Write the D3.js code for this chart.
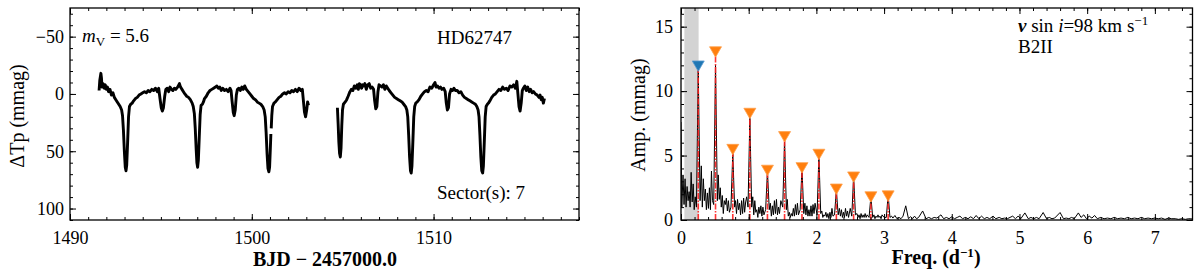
<!DOCTYPE html>
<html lang="en">
<head>
<meta charset="UTF-8">
<title>HD62747 light curve and amplitude spectrum</title>
<script src="https://d3js.org/d3.v7.min.js"></script>
<style>
    body { margin: 0; background: #fff; }
    svg text { font-family: "Liberation Serif", "Times New Roman", serif; fill: #000; }
    .tick text { font-size: 18px; }
    .axis path { display: none; }
    .axis line { stroke: #000; stroke-width: 1; }
    .frame { fill: none; stroke: #000; stroke-width: 1.3; }
    .lbl { font-size: 20px; }
    .note { font-size: 19px; }
</style>
</head>
<body>
<svg id="chart" width="1200" height="274"></svg>
<script>
// ---- light curve (BJD - 2457000, mmag); null = small gap
const lcSegment1 = [
    [1491.60,-3],[1491.64,-12],[1491.70,-18],[1491.73,-14],[1491.76,-6],[1491.82,-9],[1491.88,-5],[1491.94,-8],
    [1492.00,-4],[1492.06,-6],[1492.12,-2],[1492.20,-4],[1492.28,1],[1492.36,-1],[1492.44,3],[1492.52,5],
    [1492.60,7],[1492.68,9],[1492.76,11],[1492.84,14],[1492.89,19],[1492.94,32],[1492.99,50],[1493.04,64],
    [1493.08,67],[1493.12,62],[1493.17,42],[1493.22,20],[1493.27,11],[1493.34,9],[1493.42,8],[1493.50,6],[1493.60,4],
    [1493.70,3],[1493.80,1],[1493.90,0],[1494.00,-1],[1494.10,-2],[1494.20,-1],[1494.30,-3],[1494.40,-2],
    [1494.50,-4],[1494.60,-3],[1494.70,-5],[1494.80,-2],[1494.88,-5],[1494.95,4],[1495.02,12],[1495.08,15],
    [1495.14,12],[1495.21,2],[1495.27,-4],[1495.35,-5],[1495.43,-2],[1495.50,-6],[1495.58,-4],[1495.66,-3],
    [1495.74,-5],[1495.82,-4],[1495.92,-6],[1496.02,-9],[1496.08,-6],[1496.16,-4],[1496.24,-2],[1496.32,0],
    [1496.42,2],[1496.52,3],[1496.62,5],[1496.72,8],[1496.78,11],[1496.84,17],[1496.89,30],[1496.94,48],
    [1496.98,60],[1497.02,64],[1497.06,58],[1497.11,38],[1497.16,18],[1497.21,10],[1497.28,9],[1497.34,7],[1497.40,4],[1497.50,2],
    [1497.60,-1],[1497.70,-3],[1497.80,-4],[1497.90,-5],[1498.00,-6],[1498.08,-7],[1498.16,-5],[1498.24,-6],
    [1498.32,-3],[1498.40,-5],[1498.50,-3],[1498.60,-4],[1498.70,-2],[1498.80,-5],[1498.86,-3],[1498.92,7],
    [1498.98,16],[1499.03,19],[1499.09,14],[1499.15,1],[1499.21,-4],[1499.29,-5],[1499.37,-3],[1499.45,-6],
    [1499.53,-4],[1499.61,-7],[1499.70,-4],[1499.80,-2],[1499.90,0],[1500.00,2],[1500.10,4],[1500.20,5],
    [1500.30,7],[1500.40,8],[1500.50,9],[1500.60,11],[1500.68,14],[1500.74,20],[1500.79,34],[1500.84,52],
    [1500.89,65],[1500.94,68],[1500.98,64],[1501.02,48],[1501.05,35],null,[1501.07,30],[1501.10,19],[1501.14,11],
    [1501.22,8],[1501.30,7],[1501.40,5],[1501.50,3],[1501.60,2],[1501.70,0],[1501.80,-1],[1501.90,0],
    [1502.00,-2],[1502.10,-1],[1502.20,-3],[1502.30,-2],[1502.40,-4],[1502.50,-2],[1502.60,-5],[1502.70,-3],
    [1502.78,-4],[1502.84,6],[1502.90,16],[1502.96,20],[1503.02,14],[1503.07,7],[1503.12,10]
];
const lcSegment2 = [
    [1504.71,12],[1504.75,26],[1504.79,42],[1504.83,52],[1504.87,55],[1504.91,47],[1504.95,28],[1504.99,14],[1505.04,9],
    [1505.14,7],[1505.22,5],[1505.30,2],[1505.40,-2],[1505.48,-4],[1505.56,-3],[1505.64,-7],[1505.72,-5],
    [1505.80,-8],[1505.86,-4],[1505.92,-9],[1505.98,-8],[1506.04,-5],[1506.10,-8],[1506.16,-7],[1506.22,-9],
    [1506.30,-4],[1506.38,-8],[1506.46,-9],[1506.54,-5],[1506.62,-6],[1506.70,-4],[1506.76,6],[1506.82,13],
    [1506.88,11],[1506.94,-2],[1507.00,-8],[1507.08,-7],[1507.16,-6],[1507.24,-8],[1507.32,-4],[1507.40,-7],
    [1507.48,-5],[1507.56,-3],[1507.66,-1],[1507.76,1],[1507.86,3],[1507.96,4],[1508.06,5],[1508.16,6],
    [1508.26,7],[1508.36,9],[1508.46,11],[1508.53,14],[1508.58,20],[1508.63,36],[1508.68,55],[1508.73,67],
    [1508.77,69],[1508.81,63],[1508.86,42],[1508.91,20],[1508.96,11],[1509.02,8],[1509.10,7],[1509.20,5],[1509.30,2],[1509.40,0],
    [1509.50,-2],[1509.60,-3],[1509.70,-2],[1509.80,-6],[1509.90,-5],[1510.00,-8],[1510.08,-10],[1510.14,-6],
    [1510.22,-7],[1510.30,-5],[1510.38,-6],[1510.46,-4],[1510.56,-5],[1510.64,-2],[1510.70,8],[1510.76,14],
    [1510.82,12],[1510.88,0],[1510.96,-4],[1511.04,-3],[1511.12,-5],[1511.20,-3],[1511.30,-3],[1511.40,-1],
    [1511.50,-2],[1511.60,1],[1511.70,3],[1511.80,4],[1511.90,5],[1512.00,6],[1512.10,7],[1512.20,8],
    [1512.30,9],[1512.38,11],[1512.45,14],[1512.50,20],[1512.55,36],[1512.60,55],[1512.65,67],[1512.70,69],
    [1512.74,63],[1512.79,42],[1512.84,20],[1512.89,11],[1512.96,9],[1513.02,8],[1513.10,6],[1513.20,3],[1513.30,1],[1513.40,0],
    [1513.50,-2],[1513.60,-4],[1513.70,-3],[1513.80,-6],[1513.90,-4],[1514.00,-5],[1514.10,-3],[1514.20,-7],
    [1514.30,-6],[1514.40,-8],[1514.50,-5],[1514.58,-11],[1514.64,0],[1514.70,11],[1514.76,15],[1514.82,8],
    [1514.88,-3],[1514.94,-5],[1515.02,-7],[1515.10,-3],[1515.18,-6],[1515.26,-2],[1515.34,-4],[1515.42,-1],
    [1515.50,-2],[1515.60,0],[1515.70,1],[1515.80,3],[1515.86,1],[1515.92,5],[1515.98,3],[1516.04,8],[1516.10,4]
];

// ---- amplitude spectrum (d^-1, mmag)
const spectrum = [
    [0.000,7.6],[0.012,1.0],[0.030,3.5],[0.045,1.2],[0.060,3.2],[0.075,1.0],[0.090,2.6],[0.105,1.5],
    [0.120,2.2],[0.135,1.0],[0.150,3.7],[0.165,1.4],[0.180,2.8],[0.195,0.8],[0.210,1.8],[0.228,1.0],
    [0.255,11.6],[0.282,1.5],[0.300,4.2],[0.315,1.0],[0.330,3.2],[0.345,1.5],[0.360,2.4],[0.375,0.8],
    [0.390,2.1],[0.405,0.9],[0.420,2.5],[0.435,0.8],[0.450,3.8],[0.465,1.5],[0.483,1.2],[0.510,12.0],
    [0.537,1.5],[0.550,3.5],[0.565,1.6],[0.580,2.5],[0.595,1.0],[0.610,1.9],[0.625,0.5],[0.640,1.5],
    [0.655,1.2],[0.670,1.7],[0.685,0.7],[0.700,1.5],[0.715,0.6],[0.738,1.0],[0.765,5.2],[0.792,1.0],
    [0.805,1.5],[0.820,0.5],[0.835,1.6],[0.850,0.8],[0.865,1.3],[0.880,0.4],[0.895,1.5],[0.910,0.5],
    [0.925,1.7],[0.940,0.6],[0.955,1.4],[0.970,1.8],[0.990,1.0],[1.017,7.9],[1.044,1.0],[1.060,1.8],
    [1.075,0.4],[1.090,1.5],[1.105,0.6],[1.120,0.8],[1.135,0.2],[1.150,1.0],[1.165,0.5],[1.180,1.1],
    [1.195,0.3],[1.210,1.0],[1.225,0.4],[1.250,0.8],[1.277,3.75],[1.304,0.8],[1.320,1.3],[1.335,0.3],
    [1.350,1.1],[1.365,0.4],[1.380,1.5],[1.395,0.5],[1.410,1.6],[1.425,0.4],[1.440,1.0],[1.455,0.5],
    [1.475,1.5],[1.503,1.0],[1.530,6.2],[1.557,0.8],[1.570,1.6],[1.585,0.3],[1.600,0.6],[1.615,0.2],
    [1.630,0.5],[1.645,0.3],[1.660,0.9],[1.675,0.3],[1.690,1.2],[1.705,0.4],[1.720,1.3],[1.735,0.4],
    [1.760,0.8],[1.787,4.0],[1.814,0.5],[1.830,1.3],[1.845,0.4],[1.860,1.1],[1.875,0.3],[1.890,0.8],
    [1.905,0.3],[1.920,1.1],[1.935,0.3],[1.950,1.2],[1.965,0.5],[1.980,1.3],[2.010,0.4],[2.037,5.0],
    [2.064,0.5],[2.080,0.7],[2.095,0.2],[2.110,0.4],[2.125,0.3],[2.140,0.6],[2.155,0.2],[2.170,0.5],
    [2.185,0.1],[2.200,0.6],[2.215,0.2],[2.230,0.9],[2.245,0.3],[2.268,0.4],[2.295,2.3],[2.322,0.4],
    [2.340,0.9],[2.355,0.3],[2.370,0.8],[2.385,0.2],[2.400,0.6],[2.415,0.2],[2.430,0.9],[2.445,0.3],
    [2.460,0.7],[2.475,0.2],[2.500,0.9],[2.523,0.3],[2.550,3.4],[2.577,0.4],[2.600,0.5],[2.615,0.2],
    [2.630,0.4],[2.645,0.1],[2.660,0.5],[2.675,0.2],[2.690,0.4],[2.705,0.2],[2.720,0.5],[2.735,0.2],
    [2.750,0.4],[2.778,0.2],[2.805,1.8],[2.832,0.2],[2.850,0.4],[2.865,0.1],[2.880,0.3],[2.895,0.2],
    [2.910,0.4],[2.925,0.2],[2.940,0.3],[2.955,0.1],[2.970,0.4],[3.000,0.2],[3.033,0.2],[3.060,1.95],
    [3.087,0.2],[3.110,0.3],[3.130,0.15],[3.160,0.35],[3.190,0.1],[3.220,0.2],[3.250,0.1],[3.280,0.3],
    [3.320,1.1],[3.360,0.1],[3.390,0.25],[3.420,0.1],[3.450,0.3],[3.480,0.1],[3.510,0.2],[3.570,0.7],
    [3.620,0.1],[3.660,0.2],[3.700,0.1],[3.740,0.2],[3.780,0.15],[3.840,0.4],[3.880,0.1],[3.920,0.2],
    [3.960,0.1],[4.000,0.25],[4.040,0.1],[4.080,0.2],[4.120,0.3],[4.160,0.1],[4.200,0.2],[4.240,0.1],
    [4.280,0.25],[4.320,0.1],[4.360,0.35],[4.400,0.1],[4.440,0.3],[4.480,0.1],[4.520,0.2],[4.560,0.1],
    [4.610,0.3],[4.650,0.1],[4.700,0.2],[4.740,0.1],[4.780,0.15],[4.820,0.1],[4.860,0.2],[4.900,0.3],
    [4.940,0.1],[4.980,0.3],[5.020,0.1],[5.080,0.55],[5.130,0.1],[5.170,0.2],[5.210,0.1],[5.250,0.2],
    [5.290,0.1],[5.350,0.58],[5.400,0.1],[5.440,0.2],[5.480,0.1],[5.520,0.15],[5.600,0.58],[5.650,0.1],
    [5.690,0.15],[5.730,0.1],[5.770,0.2],[5.810,0.1],[5.870,0.55],[5.910,0.2],[5.950,0.4],[5.990,0.1],
    [6.030,0.3],[6.070,0.15],[6.110,0.35],[6.150,0.1],[6.200,0.2],[6.250,0.1],[6.300,0.15],[6.350,0.1],
    [6.400,0.2],[6.450,0.1],[6.500,0.15],[6.550,0.1],[6.600,0.2],[6.650,0.1],[6.700,0.15],[6.750,0.1],
    [6.800,0.2],[6.850,0.1],[6.900,0.15],[6.950,0.1],[7.000,0.15],[7.050,0.1],[7.100,0.15],[7.150,0.05],
    [7.200,0.15],[7.250,0.1],[7.300,0.1],[7.350,0.05],[7.400,0.1],[7.450,0.05],[7.500,0.1],[7.560,0.08]
];

// identified frequencies: marker heights and kind (first one is the base frequency)
const peakFreqs = [0.255, 0.510, 0.765, 1.017, 1.277, 1.530, 1.787, 2.037, 2.295, 2.550, 2.805, 3.060];
const peakMarks = [12.15, 13.25, 5.68, 8.48, 4.06, 6.67, 4.26, 5.30, 2.60, 3.54, 2.00, 2.07];
const peakKinds = ["base", "harm", "harm", "harm", "harm", "harm", "harm", "harm", "harm", "harm", "harm", "harm"];
const greyBand = [0.05, 0.26];

const lcTicks = [1490, 1500, 1510];
const magTicks = [-50, 0, 50, 100];
const freqTicks = [0, 1, 2, 3, 4, 5, 6, 7];
const ampTicks = [0, 5, 10, 15];

const svg = d3.select("#chart");

// frame + inward ticks on all four sides
function drawAxes(g, x, y, b, xMaj, xMin, yMaj, yMin, yPad) {
    g.append("g").attr("class", "axis").attr("transform", `translate(0,${b.bottom})`)
        .call(d3.axisBottom(x).tickValues(xMaj).tickSize(-6).tickPadding(11).tickFormat(d3.format("d")));
    g.append("g").attr("class", "axis").attr("transform", `translate(0,${b.bottom})`)
        .call(d3.axisBottom(x).tickValues(xMin).tickSize(-3).tickFormat(""));
    g.append("g").attr("class", "axis").attr("transform", `translate(0,${b.top})`)
        .call(d3.axisTop(x).tickValues(xMaj).tickSize(-6).tickFormat(""));
    g.append("g").attr("class", "axis").attr("transform", `translate(0,${b.top})`)
        .call(d3.axisTop(x).tickValues(xMin).tickSize(-3).tickFormat(""));

    g.append("g").attr("class", "axis").attr("transform", `translate(${b.left},0)`)
        .call(d3.axisLeft(y).tickValues(yMaj).tickSize(-6).tickPadding(yPad).tickFormat(d3.format("d")));
    g.append("g").attr("class", "axis").attr("transform", `translate(${b.left},0)`)
        .call(d3.axisLeft(y).tickValues(yMin).tickSize(-3).tickFormat(""));
    g.append("g").attr("class", "axis").attr("transform", `translate(${b.right},0)`)
        .call(d3.axisRight(y).tickValues(yMaj).tickSize(-6).tickFormat(""));
    g.append("g").attr("class", "axis").attr("transform", `translate(${b.right},0)`)
        .call(d3.axisRight(y).tickValues(yMin).tickSize(-3).tickFormat(""));

    g.selectAll(".axis").attr("font-family", null).attr("font-size", null);

    g.append("rect").attr("class", "frame")
        .attr("x", b.left).attr("y", b.top)
        .attr("width", b.right - b.left).attr("height", b.bottom - b.top);
}

// ---------------- left panel: light curve
const L = { left: 70, right: 579, top: 8, bottom: 220 };
const xL = d3.scaleLinear().domain([1490, 1518]).range([L.left, L.right]);
const yL = d3.scaleLinear().domain([-75, 110]).range([L.top, L.bottom]);
const gL = svg.append("g");

svg.append("clipPath").attr("id", "clipL").append("rect")
    .attr("x", L.left).attr("y", L.top).attr("width", L.right - L.left).attr("height", L.bottom - L.top);

const lcLine = d3.line().defined(d => d !== null).x(d => xL(d[0])).y(d => yL(d[1]));
gL.append("g").attr("clip-path", "url(#clipL)")
    .selectAll("path").data([lcSegment1, lcSegment2]).join("path")
    .attr("d", lcLine).attr("fill", "none").attr("stroke", "#000")
    .attr("stroke-width", 2.9).attr("stroke-linejoin", "round");

drawAxes(gL, xL, yL, L, lcTicks, d3.range(1490, 1519, 1), magTicks, d3.range(-70, 111, 10), 6);

gL.append("text").attr("class", "lbl").attr("x", L.left + 255).attr("y", 266)
    .attr("text-anchor", "middle").attr("font-weight", "bold").text("BJD \u2212 2457000.0");
gL.append("text").attr("class", "lbl")
    .attr("transform", `translate(24,${(L.top + L.bottom) / 2 + 2}) rotate(-90)`)
    .attr("text-anchor", "middle").text("\u0394Tp (mmag)");

const mv = gL.append("text").attr("class", "note").attr("x", 82).attr("y", 42);
mv.append("tspan").attr("font-style", "italic").text("m");
mv.append("tspan").attr("font-size", "13px").attr("dy", 4).text("V");
mv.append("tspan").attr("dy", -4).text(" = 5.6");

gL.append("text").attr("class", "note").attr("x", 437).attr("y", 44).text("HD62747");
gL.append("text").attr("class", "note").attr("x", 437).attr("y", 199).text("Sector(s): 7");

// ---------------- right panel: amplitude spectrum
const R = { left: 681, right: 1192.5, top: 8, bottom: 220 };
const xR = d3.scaleLinear().domain([0, 7.556]).range([R.left, R.right]);
const yR = d3.scaleLinear().domain([0, 16.45]).range([R.bottom, R.top]);
const gR = svg.append("g");

svg.append("clipPath").attr("id", "clipR").append("rect")
    .attr("x", R.left).attr("y", R.top).attr("width", R.right - R.left).attr("height", R.bottom - R.top);

const plotR = gR.append("g").attr("clip-path", "url(#clipR)");
plotR.append("rect")
    .attr("x", xR(greyBand[0])).attr("y", R.top)
    .attr("width", xR(greyBand[1]) - xR(greyBand[0])).attr("height", R.bottom - R.top)
    .attr("fill", "#d3d3d3");

plotR.append("path").datum(spectrum)
    .attr("d", d3.line().x(d => xR(d[0])).y(d => yR(d[1])))
    .attr("fill", "none").attr("stroke", "#000").attr("stroke-width", 1);

const peaks = peakFreqs.map((f, i) => ({ f, m: peakMarks[i], kind: peakKinds[i] }));

plotR.selectAll("line.peak").data(peaks).join("line").attr("class", "peak")
    .attr("x1", d => xR(d.f)).attr("x2", d => xR(d.f))
    .attr("y1", yR(0)).attr("y2", d => yR(d.m))
    .attr("stroke", "#ff2020").attr("stroke-width", 1.6)
    .attr("stroke-dasharray", "6,1.5,1.5,1.5").attr("opacity", 0.9);

plotR.selectAll("path.mark").data(peaks).join("path").attr("class", "mark")
    .attr("d", d3.symbol(d3.symbolTriangle, 62))
    .attr("transform", d => `translate(${xR(d.f)},${yR(d.m) + 1}) rotate(180)`)
    .attr("fill", d => d.kind === "base" ? "#1f77b4" : "#ff7f0e")
    .attr("stroke", d => d.kind === "base" ? "#5a9bd0" : "#ffa04a")
    .attr("stroke-width", 0.8);

drawAxes(gR, xR, yR, R, freqTicks, d3.range(0, 7.6, 0.2), ampTicks, d3.range(0, 17, 1), 8);

const fl = gR.append("text").attr("class", "lbl").attr("x", 936).attr("y", 264)
    .attr("text-anchor", "middle").attr("font-weight", "bold");
fl.append("tspan").text("Freq. (d");
fl.append("tspan").attr("font-size", "13px").attr("dy", -7).text("\u22121");
fl.append("tspan").attr("dy", 7).text(")");

gR.append("text").attr("class", "lbl")
    .attr("transform", `translate(645,${(R.top + R.bottom) / 2 + 1}) rotate(-90)`)
    .attr("text-anchor", "middle").text("Amp. (mmag)");

const vs = gR.append("text").attr("class", "note").attr("x", 1018).attr("y", 32);
vs.append("tspan").attr("font-style", "italic").attr("font-weight", "bold").text("v");
vs.append("tspan").text(" sin ");
vs.append("tspan").attr("font-style", "italic").text("i");
vs.append("tspan").text("=98 km s");
vs.append("tspan").attr("font-size", "13px").attr("dy", -7).text("\u22121");
gR.append("text").attr("class", "note").attr("x", 1018).attr("y", 53).text("B2II");
</script>
</body>
</html>
